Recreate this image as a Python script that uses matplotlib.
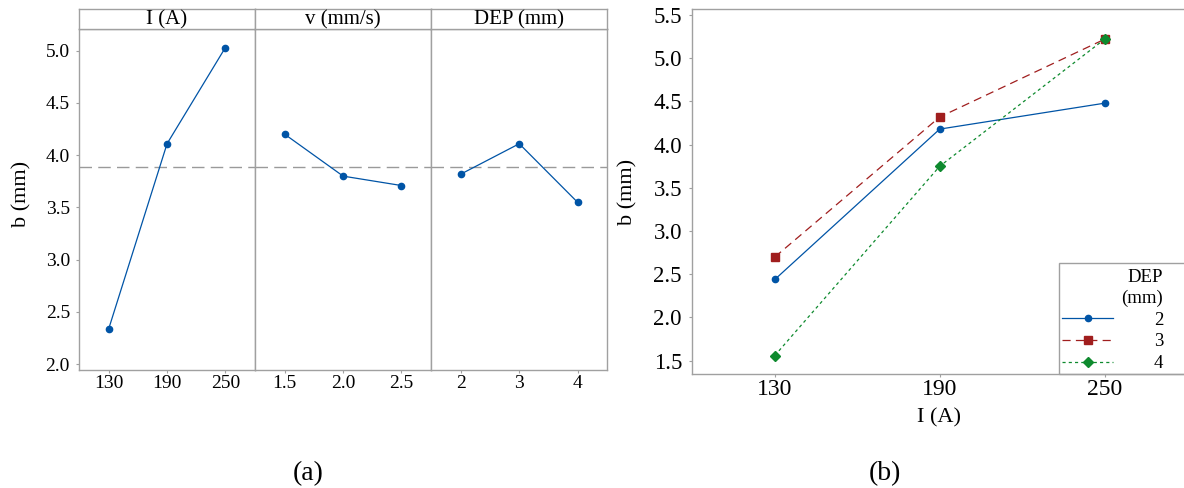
import matplotlib.pyplot as plt
from matplotlib.patches import Rectangle

plt.rcParams['font.family'] = ['Liberation Serif', 'DejaVu Serif']

# (a) main effects on b
factors = ['I (A)', 'v (mm/s)', 'DEP (mm)']
levels = [[130, 190, 250], [1.5, 2.0, 2.5], [2, 3, 4]]
level_labels = [['130', '190', '250'], ['1.5', '2.0', '2.5'], ['2', '3', '4']]
b_means = [[2.34, 4.11, 5.03], [4.20, 3.80, 3.71], [3.82, 4.11, 3.55]]
grand_mean = 3.89

# (b) interaction I x DEP
current = [130, 190, 250]
current_labels = ['130', '190', '250']
dep_levels = ['2', '3', '4']
b_dep2 = [2.44, 4.18, 4.48]
b_dep3 = [2.70, 4.32, 5.22]
b_dep4 = [1.56, 3.75, 5.22]

W, H = 1184, 488
GRAY = '#a0a0a0'
BLUE = '#0054A6'

fig = plt.figure(figsize=(W / 100, H / 100), dpi=100)


def fx(px):
    return px / W


def fy(py):
    return (H - py) / H


def style_axes(ax):
    for s in ax.spines.values():
        s.set_color(GRAY)
        s.set_linewidth(1.0)
    ax.tick_params(colors=GRAY, labelcolor='black', length=2.5, width=0.8)


# ---- left: main effects plot ----
panel_w = 176.1
ax_top, ax_bot = 29.3, 370
for i in range(3):
    x0 = 79 + i * panel_w
    ax = fig.add_axes([fx(x0), fy(ax_bot), fx(panel_w), (ax_bot - ax_top) / H])
    style_axes(ax)
    xs = levels[i]
    step = xs[1] - xs[0]
    ax.axhline(grand_mean, color='#9a9a9a', lw=1.0, ls=(0, (9, 4.5)), zorder=1)
    ax.plot(xs, b_means[i], color=BLUE, lw=0.9, marker='o', ms=4.5, zorder=3)
    ax.set_xlim(xs[0] - 0.51 * step, xs[-1] + 0.51 * step)
    ax.set_ylim(1.945, 5.205)
    ax.set_xticks(xs)
    ax.set_xticklabels(level_labels[i], fontsize=14)
    ax.tick_params(axis='x', pad=1.0)
    ax.set_yticks([2.0, 2.5, 3.0, 3.5, 4.0, 4.5, 5.0])
    if i == 0:
        ax.set_yticklabels([f'{v:.1f}' for v in ax.get_yticks()], fontsize=14)
        ax.tick_params(axis='y', pad=4.0)
    else:
        ax.tick_params(axis='y', left=False, labelleft=False)
    # header strip
    sx = fig.add_axes([fx(x0), fy(ax_top), fx(panel_w), 20 / H])
    sx.set_xticks([])
    sx.set_yticks([])
    for s in sx.spines.values():
        s.set_color(GRAY)
        s.set_linewidth(1.0)
    sx.text(0.5, 0.45, factors[i], ha='center', va='center', fontsize=15,
            transform=sx.transAxes)

fig.text(fx(21.7), fy(193.5), 'b (mm)', rotation=90, ha='center', va='center',
         fontsize=16)
fig.text(fx(308), fy(474), '(a)', ha='center', va='center', fontsize=20)

# ---- right: interaction plot ----
axb = fig.add_axes([fx(692.4), fy(374), fx(1187 - 692.4), (374 - 9) / H])
style_axes(axb)
axb.plot(current, b_dep2, color=BLUE, lw=0.9, marker='o', ms=4.5, label=dep_levels[0])
axb.plot(current, b_dep3, color='#A01E1E', lw=0.9, ls=(0, (6.5, 4.2)), marker='s',
         ms=5.2, label=dep_levels[1])
axb.plot(current, b_dep4, color='#0E8A2E', lw=0.9, ls=(0, (2.5, 2.5)), marker='D',
         ms=4.6, label=dep_levels[2])
axb.set_xlim(100, 280)
axb.set_ylim(1.346, 5.57)
axb.set_xticks(current)
axb.set_xticklabels(current_labels, fontsize=17)
axb.set_yticks([1.5, 2.0, 2.5, 3.0, 3.5, 4.0, 4.5, 5.0, 5.5])
axb.set_yticklabels([f'{v:.1f}' for v in axb.get_yticks()], fontsize=16.5)
axb.tick_params(axis='x', pad=0.8)
axb.tick_params(axis='y', pad=5.0)

fig.text(fx(628), fy(192), 'b (mm)', rotation=90, ha='center', va='center', fontsize=16)
fig.text(fx(939), fy(418), 'I (A)', ha='center', va='center', fontsize=16)
fig.text(fx(885), fy(474), '(b)', ha='center', va='center', fontsize=20)

leg = axb.legend(title='DEP\n(mm)', loc='upper left',
                 bbox_to_anchor=(fx(1058.7), fy(265.5)), bbox_transform=fig.transFigure,
                 frameon=False, fontsize=13.5, title_fontsize=13.5, alignment='right',
                 handlelength=2.68, handletextpad=2.2, labelspacing=0.25,
                 borderpad=0.2, borderaxespad=0)
leg.get_title().set_multialignment('right')
leg.get_title().set_linespacing(1.25)
fig.add_artist(Rectangle((fx(1058.7), fy(374)), fx(140), (374 - 262.7) / H,
                         transform=fig.transFigure, facecolor='none',
                         edgecolor=GRAY, lw=1.0))

fig.savefig('out.png', dpi=100)
